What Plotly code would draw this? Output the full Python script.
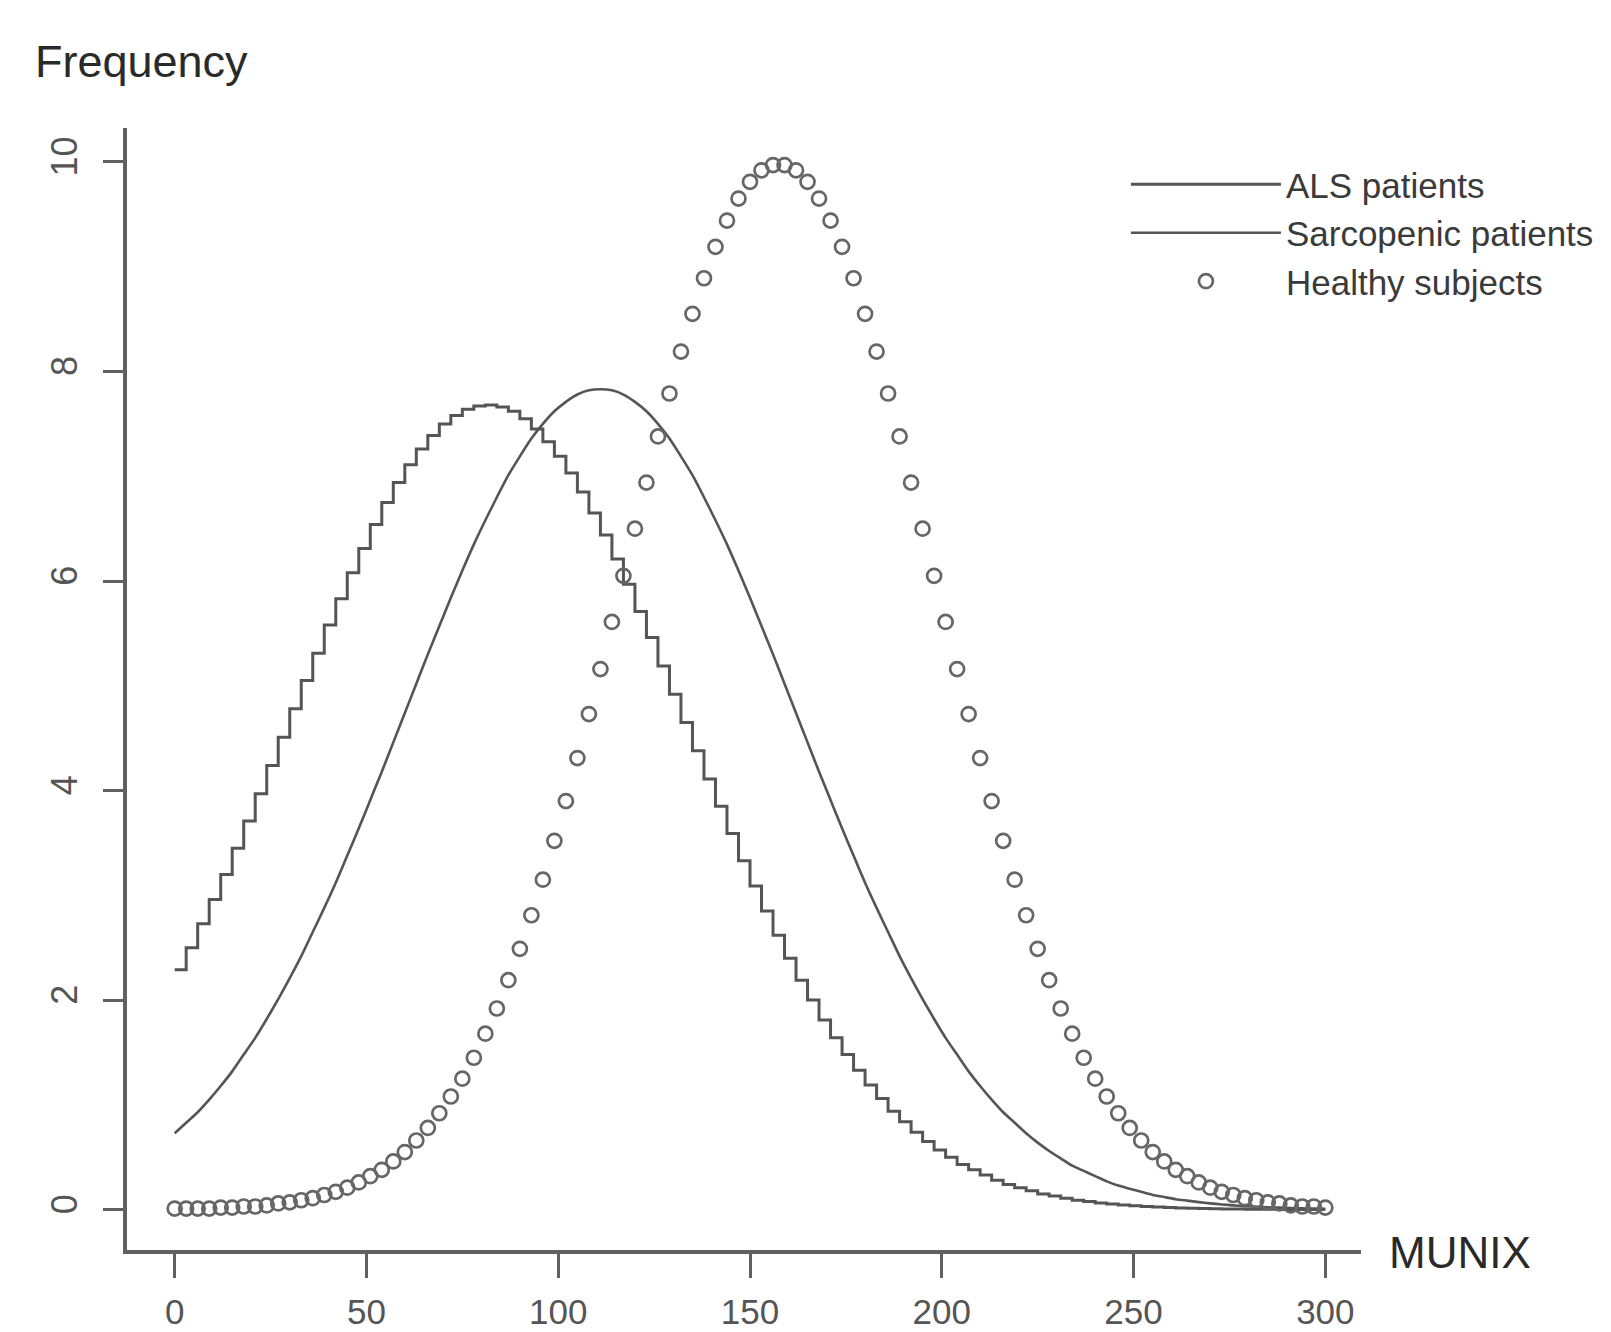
import plotly.graph_objects as go

# MUNIX grid (x values of the plotted points)
munix = list(range(0, 301, 3))

# ALS patients (step curve)
als = [
    2.29, 2.50, 2.73, 2.96, 3.20, 3.45, 3.71, 3.97, 4.24, 4.51,
    4.78, 5.05, 5.31, 5.58, 5.83, 6.08, 6.31, 6.54, 6.75, 6.94,
    7.11, 7.26, 7.39, 7.50, 7.58, 7.64, 7.67, 7.68, 7.66, 7.62,
    7.55, 7.45, 7.33, 7.19, 7.03, 6.85, 6.65, 6.44, 6.21, 5.97,
    5.71, 5.46, 5.19, 4.92, 4.65, 4.38, 4.11, 3.85, 3.59, 3.33,
    3.09, 2.85, 2.62, 2.40, 2.19, 2.00, 1.81, 1.64, 1.48, 1.33,
    1.19, 1.06, 0.94, 0.84, 0.74, 0.65, 0.57, 0.50, 0.43, 0.38,
    0.33, 0.28, 0.24, 0.21, 0.18, 0.15, 0.13, 0.11, 0.09, 0.077,
    0.064, 0.053, 0.044, 0.037, 0.030, 0.025, 0.021, 0.017, 0.014, 0.011,
    0.009, 0.007, 0.006, 0.005, 0.004, 0.003, 0.002, 0.002, 0.001, 0.001,
    0.001,
]

# Sarcopenic patients (smooth curve)
sarcopenic = [
    0.73, 0.83, 0.93, 1.05, 1.18, 1.32, 1.48, 1.64, 1.82, 2.01,
    2.21, 2.42, 2.65, 2.88, 3.12, 3.38, 3.64, 3.91, 4.18, 4.46,
    4.74, 5.02, 5.30, 5.57, 5.84, 6.10, 6.35, 6.58, 6.80, 7.01,
    7.19, 7.36, 7.50, 7.62, 7.71, 7.78, 7.82, 7.83, 7.82, 7.78,
    7.71, 7.62, 7.50, 7.36, 7.19, 7.01, 6.80, 6.58, 6.35, 6.10,
    5.84, 5.57, 5.30, 5.02, 4.74, 4.46, 4.18, 3.91, 3.64, 3.38,
    3.12, 2.88, 2.65, 2.42, 2.21, 2.01, 1.82, 1.64, 1.48, 1.32,
    1.18, 1.05, 0.93, 0.83, 0.73, 0.64, 0.56, 0.49, 0.42, 0.37,
    0.32, 0.27, 0.23, 0.20, 0.17, 0.14, 0.12, 0.10, 0.086, 0.072,
    0.060, 0.050, 0.041, 0.034, 0.028, 0.023, 0.019, 0.015, 0.012, 0.010,
    0.008,
]

# Healthy subjects (open circles)
healthy = [
    0.01, 0.01, 0.01, 0.01, 0.02, 0.02, 0.03, 0.03, 0.04, 0.06,
    0.07, 0.09, 0.11, 0.14, 0.17, 0.21, 0.26, 0.32, 0.38, 0.46,
    0.55, 0.66, 0.78, 0.92, 1.08, 1.25, 1.45, 1.68, 1.92, 2.19,
    2.49, 2.81, 3.15, 3.52, 3.90, 4.31, 4.73, 5.16, 5.61, 6.05,
    6.50, 6.94, 7.38, 7.79, 8.19, 8.55, 8.89, 9.19, 9.44, 9.65,
    9.81, 9.92, 9.97, 9.97, 9.92, 9.81, 9.65, 9.44, 9.19, 8.89,
    8.55, 8.19, 7.79, 7.38, 6.94, 6.50, 6.05, 5.61, 5.16, 4.73,
    4.31, 3.90, 3.52, 3.15, 2.81, 2.49, 2.19, 1.92, 1.68, 1.45,
    1.25, 1.08, 0.92, 0.78, 0.66, 0.55, 0.46, 0.38, 0.32, 0.26,
    0.21, 0.17, 0.14, 0.11, 0.09, 0.07, 0.06, 0.04, 0.03, 0.03,
    0.02,
]

x_ticks = [0, 50, 100, 150, 200, 250, 300]
y_ticks = [0, 2, 4, 6, 8, 10]
series_names = ["ALS patients", "Sarcopenic patients", "Healthy subjects"]

FONT = "Liberation Sans, Arial, Helvetica, sans-serif"
GREY = "#606060"

fig = go.Figure()
fig.add_trace(go.Scatter(
    x=munix, y=als, name=series_names[0], mode="lines",
    line=dict(color="#555555", width=3, shape="hv"),
))
fig.add_trace(go.Scatter(
    x=munix, y=sarcopenic, name=series_names[1], mode="lines",
    line=dict(color="#555555", width=2.6, shape="spline", smoothing=0.6),
))
fig.add_trace(go.Scatter(
    x=munix, y=healthy, name=series_names[2], mode="markers",
    marker=dict(symbol="circle-open", size=14, color="#666666",
                line=dict(width=2.7, color="#666666")),
))

fig.update_layout(
    width=1611, height=1332, autosize=False,
    margin=dict(l=127, r=250, t=128, b=82, pad=0),
    paper_bgcolor="white", plot_bgcolor="white",
    font=dict(family=FONT, color="#444"),
    showlegend=True,
    legend=dict(
        x=0.8095, y=0.976, xanchor="left", yanchor="top",
        bgcolor="rgba(0,0,0,0)", borderwidth=0,
        font=dict(family=FONT, size=35, color="#3a3a3a"),
        itemwidth=150, tracegroupgap=0,
    ),
    xaxis=dict(
        range=[-12.43, 309.3], tickmode="array", tickvals=x_ticks,
        ticktext=[str(v) for v in x_ticks],
        showline=True, linecolor=GREY, linewidth=3.5,
        ticks="outside", ticklen=24, tickwidth=3, tickcolor=GREY,
        showgrid=False, zeroline=False, automargin=False,
        tickfont=dict(family=FONT, size=35, color="#555"),
        ticklabelstandoff=4,
    ),
    yaxis=dict(
        range=[-0.385, 10.324], tickmode="array", tickvals=y_ticks,
        ticktext=[str(v) for v in y_ticks],
        showline=True, linecolor=GREY, linewidth=3.5,
        ticks="outside", ticklen=20, tickwidth=3, tickcolor=GREY,
        showgrid=False, zeroline=False, tickangle=-90, automargin=False,
        tickfont=dict(family=FONT, size=36, color="#555"),
        ticklabelstandoff=12,
    ),
    annotations=[
        dict(text="Frequency", xref="paper", yref="paper", x=-0.0765, y=1.059,
             xanchor="left", yanchor="middle", showarrow=False,
             font=dict(family=FONT, size=45, color="#2a2a2a")),
        dict(text="MUNIX", xref="paper", yref="paper", x=1.021, y=-0.002,
             xanchor="left", yanchor="middle", showarrow=False,
             font=dict(family=FONT, size=44, color="#2a2a2a")),
    ],
)

fig.write_html(
    "out.html",
    config={"displayModeBar": False},
    post_script="document.body.style.margin='0px';document.body.style.padding='0px';",
)
